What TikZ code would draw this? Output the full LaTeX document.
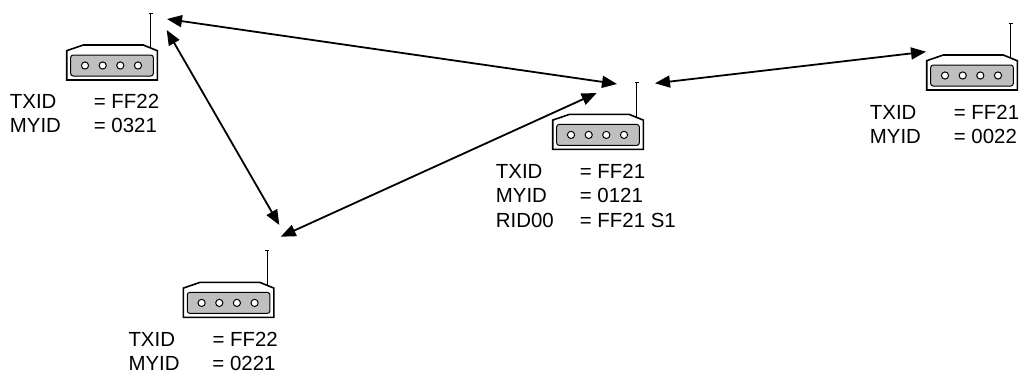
\documentclass[tikz,border=0pt]{standalone}
\usepackage{fontspec}
\setmainfont{Liberation Sans}
\usetikzlibrary{arrows.meta}
\tikzset{
  body/.style={draw=black, line width=1.6bp, fill=white},
  panel/.style={draw=black, line width=1bp, fill=black!25, rounded corners=2.5bp},
  led/.style={draw=black, line width=1bp, fill=white},
  antenna/.style={draw=black, line width=1.4bp},
  link/.style={draw=black, line width=1.8bp, {Triangle[length=15bp,width=12bp]}-{Triangle[length=15bp,width=12bp]}},
  lbl/.style={inner sep=0pt, anchor=base west, font=\fontsize{20.5}{24.5}\selectfont},
  device/.pic={
    \draw[antenna] (84,-28) -- (84,-66.7);
    \draw[antenna] (82,-66.7) -- (86,-66.7);
    \draw[body] (0,0) -- (0,-29.3) -- (16.6,-35) -- (76.6,-35) -- (90.6,-29.3) -- (90.6,0) -- cycle;
    \draw[panel] (4,-4) rectangle (86.6,-25);
    \foreach \cx in {18.3,36,53.6,71.3} \draw[led] (\cx,-14.5) circle (3.6);
  }
}
\newcommand{\idrow}[2]{\makebox[84bp][l]{#1}#2}
\begin{document}
\begin{tikzpicture}[x=1bp,y=-1bp]
\useasboundingbox (0,0) rectangle (1023,376);
% devices (body bottom-left)
\pic (d1) at (66.7,80) {device};
\pic (d2) at (552.7,149.4) {device};
\pic (d3) at (183.3,317.4) {device};
\pic (d4) at (926.7,90) {device};
% labels
\node[lbl] (t1) at (9.7,108.5) {\begin{tabular}[t]{@{}l@{}}\idrow{TXID}{= FF22}\\\idrow{MYID}{= 0321}\end{tabular}};
\node[lbl] (t2) at (495.7,178.4) {\begin{tabular}[t]{@{}l@{}}\idrow{TXID}{= FF21}\\\idrow{MYID}{= 0121}\\\idrow{RID00}{= FF21 S1}\end{tabular}};
\node[lbl] (t3) at (128.3,346.4) {\begin{tabular}[t]{@{}l@{}}\idrow{TXID}{= FF22}\\\idrow{MYID}{= 0221}\end{tabular}};
\node[lbl] (t4) at (869.7,119) {\begin{tabular}[t]{@{}l@{}}\idrow{TXID}{= FF21}\\\idrow{MYID}{= 0022}\end{tabular}};
% connector ends
\coordinate (e1a) at (167,19);
\coordinate (e2a) at (617,84);
\coordinate (e1b) at (166.7,30);
\coordinate (e3b) at (279.3,225);
\coordinate (e3c) at (280.7,236.7);
\coordinate (e2c) at (596.7,93);
\coordinate (e2d) at (655,83.3);
\coordinate (e4d) at (926,51.7);
\draw[link] (e1a) -- (e2a);
\draw[link] (e1b) -- (e3b);
\draw[link] (e3c) -- (e2c);
\draw[link] (e2d) -- (e4d);
\end{tikzpicture}
\end{document}
